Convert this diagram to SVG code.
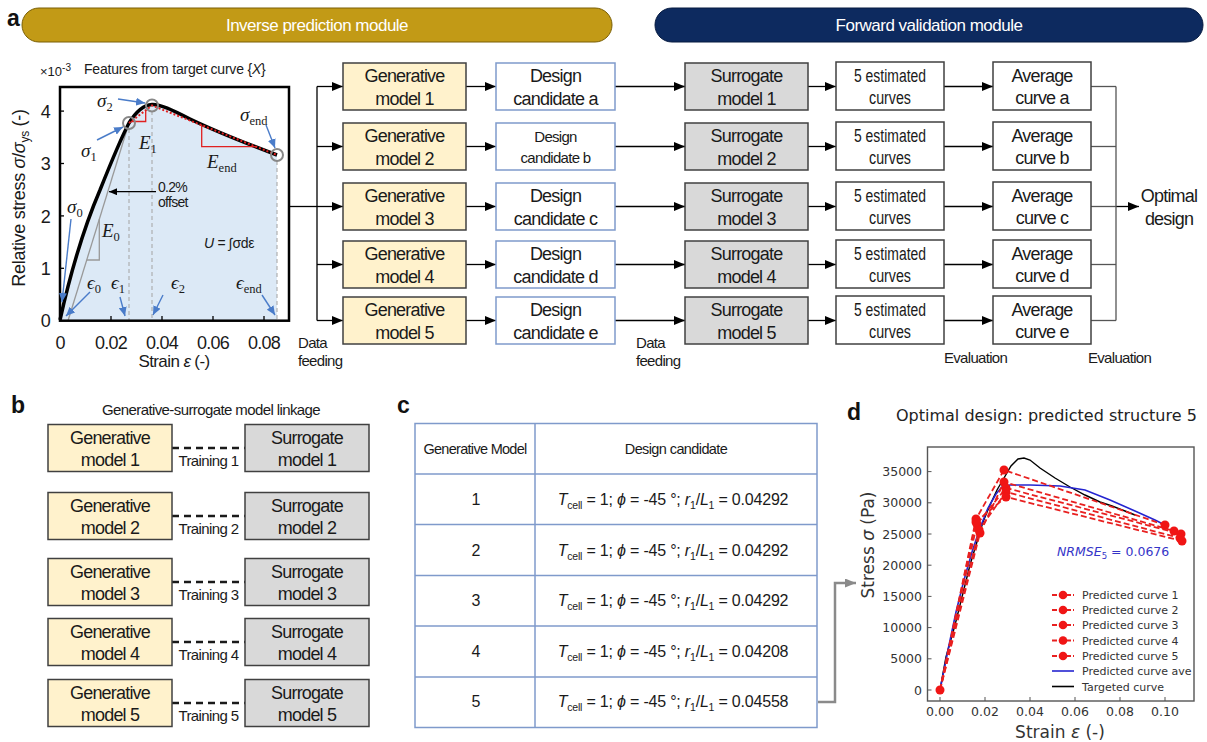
<svg xmlns="http://www.w3.org/2000/svg" width="1207" height="742" viewBox="0 0 1207 742">
<defs>
<marker id="ah" markerWidth="11" markerHeight="9" refX="11" refY="4.5" orient="auto" markerUnits="userSpaceOnUse"><path d="M0,0 L11,4.5 L0,9 z" fill="#000"/></marker>
<marker id="ahs" markerWidth="8" markerHeight="7" refX="8" refY="3.5" orient="auto" markerUnits="userSpaceOnUse"><path d="M0,0 L8,3.5 L0,7 z" fill="#000"/></marker>
<marker id="ahg" markerWidth="11" markerHeight="9" refX="11" refY="4.5" orient="auto" markerUnits="userSpaceOnUse"><path d="M0,0 L11,4.5 L0,9 z" fill="#8a8a8a"/></marker>
<marker id="ahb" markerWidth="9" markerHeight="8" refX="9" refY="4" orient="auto" markerUnits="userSpaceOnUse"><path d="M0,0 L9,4 L0,8 z" fill="#4a7cc9"/></marker>
</defs>
<style>
.sans{font-family:"Liberation Sans",Arial,sans-serif;fill:#1a1a1a}
.bx{font-family:"Liberation Sans",Arial,sans-serif;font-size:18px;letter-spacing:-0.8px;text-anchor:middle;fill:#1a1a1a}
.sm{font-family:"Liberation Sans",Arial,sans-serif;font-size:15px;letter-spacing:-0.7px;fill:#1a1a1a}
.gen{fill:#FFF2CC;stroke:#404040;stroke-width:1.5}
.sur{fill:#D9D9D9;stroke:#404040;stroke-width:1.5}
.des{fill:#fff;stroke:#7F9ACB;stroke-width:1.5}
.wht{fill:#fff;stroke:#404040;stroke-width:1.5}
.cn{fill:none;stroke:#000;stroke-width:1.3}
.mt{font-family:"Liberation Serif","Times New Roman",serif;font-style:italic;font-size:19px;fill:#1a1a1a}
.sub{font-style:normal;font-size:12.5px}
.dv{font-family:"DejaVu Sans",sans-serif;fill:#333}
.ba{fill:none;stroke:#4a7cc9;stroke-width:1.4}
.lab{font-family:"Liberation Sans",Arial,sans-serif;font-weight:bold;font-size:23px;fill:#111}
.tb{fill:none;stroke:#7F9ACB;stroke-width:1.5}
.tc{font-family:"Liberation Sans",Arial,sans-serif;font-size:16px;fill:#1a1a1a;text-anchor:middle}
</style>

<!-- panel labels -->
<text class="lab" x="7" y="26">a</text>
<text class="lab" x="11" y="413">b</text>
<text class="lab" x="397" y="413">c</text>
<text class="lab" x="847" y="420">d</text>

<!-- module headers -->
<g id="hdr-inverse">
<rect x="22" y="8" width="590" height="34" rx="17" fill="#C29A16" stroke="#7a5f05" stroke-width="1"/>
<text class="sans" x="317" y="31" text-anchor="middle" font-size="17" letter-spacing="-0.5" style="fill:#fff">Inverse prediction module</text>
</g>
<g id="hdr-forward">
<rect x="655" y="8" width="548" height="34" rx="17" fill="#0D2A5F" stroke="#061a40" stroke-width="1"/>
<text class="sans" x="929" y="31" text-anchor="middle" font-size="17" letter-spacing="-0.5" style="fill:#fff">Forward validation module</text>
</g>

<!-- plot a -->
<g id="plot-a">
<path d="M60,320.7 L60,320 C70,275 85,225 100,190 C110,165 120,140 129,123 C137,110 144,105 152,104.5 C160,104 172,110 190,119 C215,131 245,143 277,155 L277,320.7 Z" fill="#DCE9F6"/>
<g stroke="#aaa" stroke-width="1.1" stroke-dasharray="4,3">
<line x1="129" y1="129" x2="129" y2="320"/>
<line x1="152" y1="111" x2="152" y2="320"/>
<line x1="277" y1="161" x2="277" y2="320"/>
</g>
<line x1="68" y1="320.7" x2="129" y2="123" stroke="#999" stroke-width="1.3"/>
<path d="M86.7,260 H99.3 V219.3" fill="none" stroke="#999" stroke-width="1.3"/>
<path d="M60,320 C70,275 85,225 100,190 C110,165 120,140 129,123 C137,110 144,105 152,104.5 C160,104 172,110 190,119 C215,131 245,143 277,155" fill="none" stroke="#000" stroke-width="3.5"/>
<polyline points="129,123 152,105.5 277,155" fill="none" stroke="#e02020" stroke-width="2" stroke-dasharray="2,2"/>
<path d="M131,121.5 H145.7 V110.5" fill="none" stroke="#e02020" stroke-width="1.3"/>
<path d="M201.7,125 V146.7 H256.7" fill="none" stroke="#e02020" stroke-width="1.3"/>
<g fill="none" stroke="#888" stroke-width="2">
<circle cx="129" cy="123" r="6"/>
<circle cx="152" cy="105.5" r="6"/>
<circle cx="277" cy="155" r="6"/>
</g>
<rect x="60" y="87" width="229" height="233.7" fill="none" stroke="#000" stroke-width="2.5"/>
<g stroke="#000" stroke-width="1.3">
<line x1="111" y1="320" x2="111" y2="316"/><line x1="162" y1="320" x2="162" y2="316"/><line x1="213" y1="320" x2="213" y2="316"/><line x1="264" y1="320" x2="264" y2="316"/>
<line x1="60" y1="268.3" x2="64" y2="268.3"/><line x1="60" y1="215.9" x2="64" y2="215.9"/><line x1="60" y1="163.5" x2="64" y2="163.5"/><line x1="60" y1="111.1" x2="64" y2="111.1"/>
</g>
<g class="ba">
<line x1="118" y1="99" x2="145" y2="103" marker-end="url(#ahb)"/>
<line x1="97" y1="140" x2="123" y2="127" marker-end="url(#ahb)"/>
<line x1="266" y1="125" x2="275" y2="148" marker-end="url(#ahb)"/>
<line x1="71" y1="219" x2="62" y2="302" marker-end="url(#ahb)"/>
<line x1="90" y1="292" x2="66" y2="316" marker-end="url(#ahb)"/>
<line x1="120" y1="297" x2="125" y2="316" marker-end="url(#ahb)"/>
<line x1="163" y1="295" x2="153" y2="315" marker-end="url(#ahb)"/>
<line x1="262" y1="295" x2="275" y2="315" marker-end="url(#ahb)"/>
</g>
<line x1="156" y1="191.7" x2="109" y2="191.7" stroke="#000" stroke-width="1.2" marker-end="url(#ahs)"/>
<text class="sans" x="158" y="192" font-size="14" letter-spacing="-0.7">0.2%</text>
<text class="sans" x="158" y="207" font-size="14" letter-spacing="-0.7">offset</text>
<text class="mt" x="97" y="107">σ<tspan class="sub" dy="4">2</tspan></text>
<text class="mt" x="81" y="157">σ<tspan class="sub" dy="4">1</tspan></text>
<text class="mt" x="240" y="121">σ<tspan class="sub" dy="4">end</tspan></text>
<text class="mt" x="67" y="213">σ<tspan class="sub" dy="4">0</tspan></text>
<text class="mt" x="139" y="149">E<tspan class="sub" dy="4">1</tspan></text>
<text class="mt" x="207" y="168">E<tspan class="sub" dy="4">end</tspan></text>
<text class="mt" x="102" y="237">E<tspan class="sub" dy="4">0</tspan></text>
<text class="mt" x="87" y="289">ϵ<tspan class="sub" dy="4">0</tspan></text>
<text class="mt" x="111" y="289">ϵ<tspan class="sub" dy="4">1</tspan></text>
<text class="mt" x="171" y="289">ϵ<tspan class="sub" dy="4">2</tspan></text>
<text class="mt" x="236" y="289">ϵ<tspan class="sub" dy="4">end</tspan></text>
<text class="sans" x="204" y="248" font-size="14" letter-spacing="-0.3"><tspan font-style="italic">U</tspan> = ∫σdε</text>
<g class="sans" font-size="18" letter-spacing="-0.8" text-anchor="end">
<text x="50" y="327">0</text><text x="50" y="275">1</text><text x="50" y="222.5">2</text><text x="50" y="170">3</text><text x="50" y="118">4</text>
</g>
<g class="sans" font-size="18" letter-spacing="-0.8" text-anchor="middle">
<text x="60" y="349">0</text><text x="111" y="349">0.02</text><text x="162" y="349">0.04</text><text x="213" y="349">0.06</text><text x="264" y="349">0.08</text>
</g>
<text class="sans" x="174" y="367" font-size="17" letter-spacing="-0.6" text-anchor="middle">Strain <tspan font-style="italic">ε</tspan> (-)</text>
<text class="sans" transform="translate(25,198) rotate(-90)" font-size="18" letter-spacing="-0.3" text-anchor="middle">Relative stress <tspan font-style="italic">σ</tspan>/<tspan font-style="italic">σ</tspan><tspan font-size="12" dy="4">ys</tspan><tspan dy="-4"> (-)</tspan></text>
<text class="sans" x="40" y="76" font-size="13">×10<tspan font-size="10" dy="-5">-3</tspan></text>
<text class="sans" x="84" y="74" font-size="14" letter-spacing="-0.2">Features from target curve {<tspan font-style="italic">X</tspan>}</text>
</g>

<!-- connectors -->
<g id="connectors">
<line class="cn" x1="289" y1="206.5" x2="317" y2="206.5"/>
<line class="cn" x1="317" y1="86.5" x2="317" y2="320.5"/>
<g marker-end="url(#ah)">
<line class="cn" x1="317" y1="86.5" x2="343" y2="86.5"/>
<line class="cn" x1="317" y1="146.5" x2="343" y2="146.5"/>
<line class="cn" x1="317" y1="206.5" x2="343" y2="206.5"/>
<line class="cn" x1="317" y1="264.5" x2="343" y2="264.5"/>
<line class="cn" x1="317" y1="320.5" x2="343" y2="320.5"/>
<line class="cn" x1="466" y1="86.5" x2="496" y2="86.5"/>
<line class="cn" x1="466" y1="146.5" x2="496" y2="146.5"/>
<line class="cn" x1="466" y1="206.5" x2="496" y2="206.5"/>
<line class="cn" x1="466" y1="264.5" x2="496" y2="264.5"/>
<line class="cn" x1="466" y1="320.5" x2="496" y2="320.5"/>
<line class="cn" x1="615" y1="86.5" x2="685" y2="86.5"/>
<line class="cn" x1="615" y1="146.5" x2="685" y2="146.5"/>
<line class="cn" x1="615" y1="206.5" x2="685" y2="206.5"/>
<line class="cn" x1="615" y1="264.5" x2="685" y2="264.5"/>
<line class="cn" x1="615" y1="320.5" x2="685" y2="320.5"/>
<line class="cn" x1="808" y1="86.5" x2="836" y2="86.5"/>
<line class="cn" x1="808" y1="146.5" x2="836" y2="146.5"/>
<line class="cn" x1="808" y1="206.5" x2="836" y2="206.5"/>
<line class="cn" x1="808" y1="264.5" x2="836" y2="264.5"/>
<line class="cn" x1="808" y1="320.5" x2="836" y2="320.5"/>
<line class="cn" x1="944" y1="86.5" x2="993" y2="86.5"/>
<line class="cn" x1="944" y1="146.5" x2="993" y2="146.5"/>
<line class="cn" x1="944" y1="206.5" x2="993" y2="206.5"/>
<line class="cn" x1="944" y1="264.5" x2="993" y2="264.5"/>
<line class="cn" x1="944" y1="320.5" x2="993" y2="320.5"/>
<line class="cn" x1="1116" y1="206.5" x2="1139" y2="206.5"/>
</g>
<g stroke="#555" stroke-width="1.3" fill="none">
<line x1="1091" y1="86.5" x2="1116" y2="86.5"/>
<line x1="1091" y1="146.5" x2="1116" y2="146.5"/>
<line x1="1091" y1="206.5" x2="1116" y2="206.5"/>
<line x1="1091" y1="264.5" x2="1116" y2="264.5"/>
<line x1="1091" y1="320.5" x2="1116" y2="320.5"/>
<line x1="1116" y1="86.5" x2="1116" y2="320.5"/>
</g>
<g stroke="#1a1a1a" stroke-width="2.5" stroke-dasharray="7,5">
<line x1="172" y1="448" x2="245" y2="448"/>
<line x1="172" y1="516" x2="245" y2="516"/>
<line x1="172" y1="582" x2="245" y2="582"/>
<line x1="172" y1="642" x2="245" y2="642"/>
<line x1="172" y1="703" x2="245" y2="703"/>
</g>
<path d="M818,702 H835 V583 H856" fill="none" stroke="#8a8a8a" stroke-width="2.5" marker-end="url(#ahg)"/>
</g>

<text class="sm" x="298" y="348">Data</text>
<text class="sm" x="298" y="366">feeding</text>
<text class="sm" x="636" y="348">Data</text>
<text class="sm" x="636" y="366">feeding</text>
<text class="sm" x="944" y="363">Evaluation</text>
<text class="sm" x="1088" y="363">Evaluation</text>

<!-- flow nodes -->
<g id="gen1"><rect class="gen" x="343" y="63" width="123" height="47"/><text class="bx" x="404.5" y="82">Generative</text><text class="bx" x="404.5" y="104.5">model 1</text></g>
<g id="gen2"><rect class="gen" x="343" y="123" width="123" height="47"/><text class="bx" x="404.5" y="142">Generative</text><text class="bx" x="404.5" y="164.5">model 2</text></g>
<g id="gen3"><rect class="gen" x="343" y="183" width="123" height="47"/><text class="bx" x="404.5" y="202">Generative</text><text class="bx" x="404.5" y="224.5">model 3</text></g>
<g id="gen4"><rect class="gen" x="343" y="241" width="123" height="47"/><text class="bx" x="404.5" y="260">Generative</text><text class="bx" x="404.5" y="282.5">model 4</text></g>
<g id="gen5"><rect class="gen" x="343" y="297" width="123" height="47"/><text class="bx" x="404.5" y="316">Generative</text><text class="bx" x="404.5" y="338.5">model 5</text></g>

<g id="des-a"><rect class="des" x="496" y="63" width="119" height="47"/><text class="bx" x="555.5" y="82">Design</text><text class="bx" x="555.5" y="104.5">candidate a</text></g>
<g id="des-b"><rect class="des" x="496" y="123" width="119" height="47"/><text class="bx" x="555.5" y="142" style="font-size:15px;letter-spacing:-0.7px">Design</text><text class="bx" x="555.5" y="163" style="font-size:15px;letter-spacing:-0.7px">candidate b</text></g>
<g id="des-c"><rect class="des" x="496" y="183" width="119" height="47"/><text class="bx" x="555.5" y="202">Design</text><text class="bx" x="555.5" y="224.5">candidate c</text></g>
<g id="des-d"><rect class="des" x="496" y="241" width="119" height="47"/><text class="bx" x="555.5" y="260">Design</text><text class="bx" x="555.5" y="282.5">candidate d</text></g>
<g id="des-e"><rect class="des" x="496" y="297" width="119" height="47"/><text class="bx" x="555.5" y="316">Design</text><text class="bx" x="555.5" y="338.5">candidate e</text></g>

<g id="sur1"><rect class="sur" x="685" y="63" width="123" height="47"/><text class="bx" x="746.5" y="82">Surrogate</text><text class="bx" x="746.5" y="104.5">model 1</text></g>
<g id="sur2"><rect class="sur" x="685" y="123" width="123" height="47"/><text class="bx" x="746.5" y="142">Surrogate</text><text class="bx" x="746.5" y="164.5">model 2</text></g>
<g id="sur3"><rect class="sur" x="685" y="183" width="123" height="47"/><text class="bx" x="746.5" y="202">Surrogate</text><text class="bx" x="746.5" y="224.5">model 3</text></g>
<g id="sur4"><rect class="sur" x="685" y="241" width="123" height="47"/><text class="bx" x="746.5" y="260">Surrogate</text><text class="bx" x="746.5" y="282.5">model 4</text></g>
<g id="sur5"><rect class="sur" x="685" y="297" width="123" height="47"/><text class="bx" x="746.5" y="316">Surrogate</text><text class="bx" x="746.5" y="338.5">model 5</text></g>

<g id="est1"><rect class="wht" x="836" y="62" width="108" height="48"/><text class="bx" x="890" y="81.5" textLength="72" lengthAdjust="spacingAndGlyphs" style="letter-spacing:0">5 estimated</text><text class="bx" x="890" y="104" textLength="42" lengthAdjust="spacingAndGlyphs" style="letter-spacing:0">curves</text></g>
<g id="est2"><rect class="wht" x="836" y="122" width="108" height="48"/><text class="bx" x="890" y="141.5" textLength="72" lengthAdjust="spacingAndGlyphs" style="letter-spacing:0">5 estimated</text><text class="bx" x="890" y="164" textLength="42" lengthAdjust="spacingAndGlyphs" style="letter-spacing:0">curves</text></g>
<g id="est3"><rect class="wht" x="836" y="182" width="108" height="48"/><text class="bx" x="890" y="201.5" textLength="72" lengthAdjust="spacingAndGlyphs" style="letter-spacing:0">5 estimated</text><text class="bx" x="890" y="224" textLength="42" lengthAdjust="spacingAndGlyphs" style="letter-spacing:0">curves</text></g>
<g id="est4"><rect class="wht" x="836" y="240" width="108" height="48"/><text class="bx" x="890" y="259.5" textLength="72" lengthAdjust="spacingAndGlyphs" style="letter-spacing:0">5 estimated</text><text class="bx" x="890" y="282" textLength="42" lengthAdjust="spacingAndGlyphs" style="letter-spacing:0">curves</text></g>
<g id="est5"><rect class="wht" x="836" y="296" width="108" height="48"/><text class="bx" x="890" y="315.5" textLength="72" lengthAdjust="spacingAndGlyphs" style="letter-spacing:0">5 estimated</text><text class="bx" x="890" y="338" textLength="42" lengthAdjust="spacingAndGlyphs" style="letter-spacing:0">curves</text></g>

<g id="avg-a"><rect class="wht" x="993" y="62" width="98" height="48"/><text class="bx" x="1042" y="81.5">Average</text><text class="bx" x="1042" y="104">curve a</text></g>
<g id="avg-b"><rect class="wht" x="993" y="122" width="98" height="48"/><text class="bx" x="1042" y="141.5">Average</text><text class="bx" x="1042" y="164">curve b</text></g>
<g id="avg-c"><rect class="wht" x="993" y="182" width="98" height="48"/><text class="bx" x="1042" y="201.5">Average</text><text class="bx" x="1042" y="224">curve c</text></g>
<g id="avg-d"><rect class="wht" x="993" y="240" width="98" height="48"/><text class="bx" x="1042" y="259.5">Average</text><text class="bx" x="1042" y="282">curve d</text></g>
<g id="avg-e"><rect class="wht" x="993" y="296" width="98" height="48"/><text class="bx" x="1042" y="315.5">Average</text><text class="bx" x="1042" y="338">curve e</text></g>

<g id="optimal"><text class="bx" x="1169" y="201.5">Optimal</text><text class="bx" x="1169" y="224.5">design</text></g>

<!-- panel b -->
<text class="sm" x="211" y="415" text-anchor="middle" style="letter-spacing:-0.6px">Generative-surrogate model linkage</text>
<g id="b-gen1"><rect class="gen" x="48" y="424.5" width="124" height="47"/><text class="bx" x="110" y="444">Generative</text><text class="bx" x="110" y="466">model 1</text></g>
<g id="b-gen2"><rect class="gen" x="48" y="492.5" width="124" height="47"/><text class="bx" x="110" y="512">Generative</text><text class="bx" x="110" y="534">model 2</text></g>
<g id="b-gen3"><rect class="gen" x="48" y="558.5" width="124" height="47"/><text class="bx" x="110" y="578">Generative</text><text class="bx" x="110" y="600">model 3</text></g>
<g id="b-gen4"><rect class="gen" x="48" y="618.5" width="124" height="47"/><text class="bx" x="110" y="638">Generative</text><text class="bx" x="110" y="660">model 4</text></g>
<g id="b-gen5"><rect class="gen" x="48" y="679.5" width="124" height="47"/><text class="bx" x="110" y="699">Generative</text><text class="bx" x="110" y="721">model 5</text></g>
<g id="b-sur1"><rect class="sur" x="245" y="424.5" width="124" height="47"/><text class="bx" x="307" y="444">Surrogate</text><text class="bx" x="307" y="466">model 1</text></g>
<g id="b-sur2"><rect class="sur" x="245" y="492.5" width="124" height="47"/><text class="bx" x="307" y="512">Surrogate</text><text class="bx" x="307" y="534">model 2</text></g>
<g id="b-sur3"><rect class="sur" x="245" y="558.5" width="124" height="47"/><text class="bx" x="307" y="578">Surrogate</text><text class="bx" x="307" y="600">model 3</text></g>
<g id="b-sur4"><rect class="sur" x="245" y="618.5" width="124" height="47"/><text class="bx" x="307" y="638">Surrogate</text><text class="bx" x="307" y="660">model 4</text></g>
<g id="b-sur5"><rect class="sur" x="245" y="679.5" width="124" height="47"/><text class="bx" x="307" y="699">Surrogate</text><text class="bx" x="307" y="721">model 5</text></g>
<g class="sm" text-anchor="middle" style="letter-spacing:-0.6px">
<text x="208.5" y="465.5">Training 1</text>
<text x="208.5" y="533.5">Training 2</text>
<text x="208.5" y="599.5">Training 3</text>
<text x="208.5" y="659.5">Training 4</text>
<text x="208.5" y="720.5">Training 5</text>
</g>

<!-- panel c table -->
<g id="table-c">
<rect class="tb" x="415" y="423.5" width="402" height="304"/>
<line class="tb" x1="535" y1="423.5" x2="535" y2="727.5"/>
<line class="tb" x1="415" y1="474" x2="817" y2="474"/>
<line class="tb" x1="415" y1="524.5" x2="817" y2="524.5"/>
<line class="tb" x1="415" y1="575.5" x2="817" y2="575.5"/>
<line class="tb" x1="415" y1="626" x2="817" y2="626"/>
<line class="tb" x1="415" y1="677" x2="817" y2="677"/>
<text class="tc" x="475" y="454" style="font-size:14.5px;letter-spacing:-0.7px">Generative Model</text>
<text class="tc" x="676" y="454" style="font-size:14.5px;letter-spacing:-0.6px">Design candidate</text>
<text class="tc" x="476" y="505">1</text>
<text class="tc" x="476" y="556">2</text>
<text class="tc" x="476" y="606">3</text>
<text class="tc" x="476" y="657">4</text>
<text class="tc" x="476" y="707">5</text>
<text class="tc" x="673" y="505" letter-spacing="-0.2"><tspan font-style="italic">T</tspan><tspan font-size="10.5" dy="4">cell</tspan><tspan dy="-4"> = 1; </tspan><tspan font-style="italic">ϕ</tspan> = -45 °; <tspan font-style="italic">r</tspan><tspan font-size="10.5" dy="4">1</tspan><tspan dy="-4">/</tspan><tspan font-style="italic">L</tspan><tspan font-size="10.5" dy="4">1</tspan><tspan dy="-4"> = 0.04292</tspan></text>
<text class="tc" x="673" y="556" letter-spacing="-0.2"><tspan font-style="italic">T</tspan><tspan font-size="10.5" dy="4">cell</tspan><tspan dy="-4"> = 1; </tspan><tspan font-style="italic">ϕ</tspan> = -45 °; <tspan font-style="italic">r</tspan><tspan font-size="10.5" dy="4">1</tspan><tspan dy="-4">/</tspan><tspan font-style="italic">L</tspan><tspan font-size="10.5" dy="4">1</tspan><tspan dy="-4"> = 0.04292</tspan></text>
<text class="tc" x="673" y="606" letter-spacing="-0.2"><tspan font-style="italic">T</tspan><tspan font-size="10.5" dy="4">cell</tspan><tspan dy="-4"> = 1; </tspan><tspan font-style="italic">ϕ</tspan> = -45 °; <tspan font-style="italic">r</tspan><tspan font-size="10.5" dy="4">1</tspan><tspan dy="-4">/</tspan><tspan font-style="italic">L</tspan><tspan font-size="10.5" dy="4">1</tspan><tspan dy="-4"> = 0.04292</tspan></text>
<text class="tc" x="673" y="657" letter-spacing="-0.2"><tspan font-style="italic">T</tspan><tspan font-size="10.5" dy="4">cell</tspan><tspan dy="-4"> = 1; </tspan><tspan font-style="italic">ϕ</tspan> = -45 °; <tspan font-style="italic">r</tspan><tspan font-size="10.5" dy="4">1</tspan><tspan dy="-4">/</tspan><tspan font-style="italic">L</tspan><tspan font-size="10.5" dy="4">1</tspan><tspan dy="-4"> = 0.04208</tspan></text>
<text class="tc" x="673" y="707" letter-spacing="-0.2"><tspan font-style="italic">T</tspan><tspan font-size="10.5" dy="4">cell</tspan><tspan dy="-4"> = 1; </tspan><tspan font-style="italic">ϕ</tspan> = -45 °; <tspan font-style="italic">r</tspan><tspan font-size="10.5" dy="4">1</tspan><tspan dy="-4">/</tspan><tspan font-style="italic">L</tspan><tspan font-size="10.5" dy="4">1</tspan><tspan dy="-4"> = 0.04558</tspan></text>
</g>

<!-- plot d -->
<g id="plot-d">
<text class="dv" x="896" y="421" font-size="16" style="fill:#222">Optimal design: predicted structure 5</text>
<rect x="927.5" y="447" width="266.5" height="254" fill="#fff" stroke="#555" stroke-width="1.4"/>
<g stroke="#555" stroke-width="1">
<line x1="940" y1="701" x2="940" y2="697"/><line x1="985" y1="701" x2="985" y2="697"/><line x1="1030" y1="701" x2="1030" y2="697"/><line x1="1075" y1="701" x2="1075" y2="697"/><line x1="1120" y1="701" x2="1120" y2="697"/><line x1="1165" y1="701" x2="1165" y2="697"/>
<line x1="927.5" y1="690" x2="931.5" y2="690"/><line x1="927.5" y1="658.8" x2="931.5" y2="658.8"/><line x1="927.5" y1="627.6" x2="931.5" y2="627.6"/><line x1="927.5" y1="596.4" x2="931.5" y2="596.4"/><line x1="927.5" y1="565.2" x2="931.5" y2="565.2"/><line x1="927.5" y1="534" x2="931.5" y2="534"/><line x1="927.5" y1="502.8" x2="931.5" y2="502.8"/><line x1="927.5" y1="471.6" x2="931.5" y2="471.6"/>
</g>
<g class="dv" font-size="12.5" text-anchor="end">
<text x="922" y="694.5">0</text><text x="922" y="663.3">5000</text><text x="922" y="632.1">10000</text><text x="922" y="600.9">15000</text><text x="922" y="569.7">20000</text><text x="922" y="538.5">25000</text><text x="922" y="507.3">30000</text><text x="922" y="476.1">35000</text>
</g>
<g class="dv" font-size="12.5" text-anchor="middle">
<text x="940" y="716">0.00</text><text x="985" y="716">0.02</text><text x="1030" y="716">0.04</text><text x="1075" y="716">0.06</text><text x="1120" y="716">0.08</text><text x="1165" y="716">0.10</text>
</g>
<text class="dv" x="1060" y="738" font-size="17" text-anchor="middle">Strain <tspan font-style="italic">ε</tspan> (-)</text>
<text class="dv" transform="translate(874,545) rotate(-90)" font-size="17" text-anchor="middle">Stress <tspan font-style="italic">σ</tspan> (Pa)</text>
<polyline points="940,690 946,657 955,625 963,593 970,565 976,545 983,522 990,505 997,490 1004,478 1011,466 1018,459 1024,458 1030,460 1040,468 1055,478 1070,487 1085,495 1100,502 1112,506 1125,511 1135,515" fill="none" stroke="#000" stroke-width="1.4"/>
<polyline points="940,690 948,650 956,612 964,580 972,552 980,528 988,508 996,494 1002,487 1010,485 1030,485 1060,486 1085,490 1110,500 1135,511 1155,520 1165,525" fill="none" stroke="#2424d0" stroke-width="1.6"/>
<g fill="none" stroke="#e82020" stroke-width="1.8" stroke-dasharray="6,3">
<polyline points="940,690 976,519 1004,470 1165,525"/>
<polyline points="940,690 980,533 1004,482 1174,531"/>
<polyline points="940,690 977,524 1006,488 1181,534"/>
<polyline points="940,690 979,530 1006,492 1180,538"/>
<polyline points="940,690 976,522 1006,497 1182,541"/>
</g>
<g fill="#f01515">
<circle cx="940" cy="690" r="4.5"/>
<circle cx="976" cy="519" r="4.5"/><circle cx="980" cy="533" r="4.5"/><circle cx="977" cy="524" r="4.5"/><circle cx="979" cy="530" r="4.5"/><circle cx="976" cy="522" r="4.5"/>
<circle cx="1004" cy="470" r="4.5"/><circle cx="1004" cy="482" r="4.5"/><circle cx="1006" cy="488" r="4.5"/><circle cx="1006" cy="492" r="4.5"/><circle cx="1006" cy="497" r="4.5"/>
<circle cx="1165" cy="525" r="4.5"/><circle cx="1174" cy="531" r="4.5"/><circle cx="1181" cy="534" r="4.5"/><circle cx="1180" cy="538" r="4.5"/><circle cx="1182" cy="541" r="4.5"/>
</g>
<text class="dv" x="1057" y="556" font-size="12.5" style="fill:#3535c8"><tspan font-style="italic">NRMSE</tspan><tspan font-size="8.5" dy="2.5">5</tspan><tspan dy="-2.5"> = 0.0676</tspan></text>
<g stroke="#e82020" stroke-width="1.8" stroke-dasharray="5,2">
<line x1="1052" y1="595" x2="1074" y2="595"/><line x1="1052" y1="610" x2="1074" y2="610"/><line x1="1052" y1="625" x2="1074" y2="625"/><line x1="1052" y1="640.5" x2="1074" y2="640.5"/><line x1="1052" y1="656" x2="1074" y2="656"/>
</g>
<g fill="#f01515">
<circle cx="1063" cy="595" r="4.3"/><circle cx="1063" cy="610" r="4.3"/><circle cx="1063" cy="625" r="4.3"/><circle cx="1063" cy="640.5" r="4.3"/><circle cx="1063" cy="656" r="4.3"/>
</g>
<line x1="1052" y1="671" x2="1074" y2="671" stroke="#2424d0" stroke-width="1.6"/>
<line x1="1052" y1="686.5" x2="1074" y2="686.5" stroke="#000" stroke-width="1.6"/>
<g class="dv" font-size="11">
<text x="1082" y="599">Predicted curve 1</text><text x="1082" y="614">Predicted curve 2</text><text x="1082" y="629">Predicted curve 3</text><text x="1082" y="644.5">Predicted curve 4</text><text x="1082" y="660">Predicted curve 5</text><text x="1082" y="675">Predicted curve ave</text><text x="1082" y="690.5">Targeted curve</text>
</g>
</g>
</svg>
